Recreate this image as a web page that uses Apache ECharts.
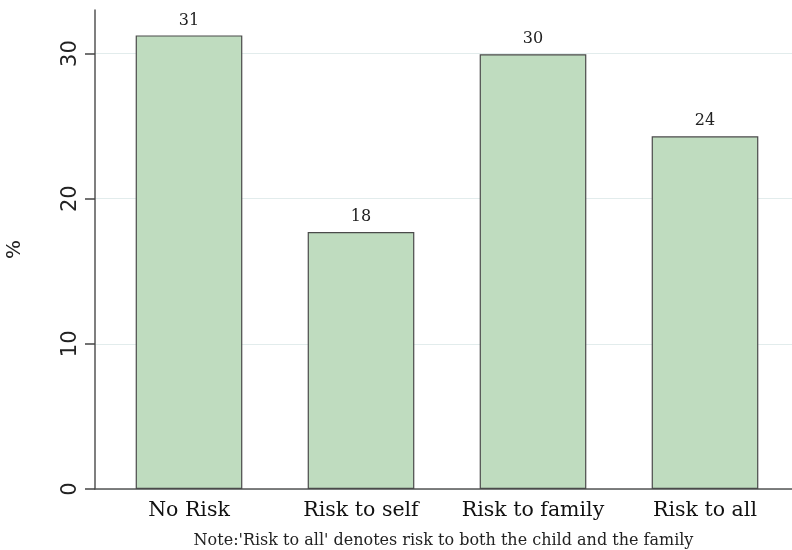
<!DOCTYPE html>
<html><head><meta charset="utf-8">
<script src="https://cdn.jsdelivr.net/npm/echarts@6/dist/echarts.min.js"></script>
<style>html,body{margin:0;padding:0;background:#fff}#c{width:792px;height:550px}</style>
</head><body><div id="c"></div>
<script>
const categories = ['No Risk', 'Risk to self', 'Risk to family', 'Risk to all'];
const values = [31.25, 17.7, 29.95, 24.3];
const labels = ['31', '18', '30', '24'];
const yTicks = [0, 10, 20, 30];
const noteText = "Note:'Risk to all' denotes risk to both the child and the family";

const serif = 'DejaVu Serif';
const sans = 'DejaVu Sans';
const chart = echarts.init(document.getElementById('c'), null, {renderer: 'canvas'});
chart.setOption({
  animation: false,
  backgroundColor: '#fff',
  grid: [
    {left: 95, right: 0, top: 10, bottom: 61, containLabel: false, outerBoundsMode: 'none'},
    {left: 103, right: 1, top: 10, bottom: 61, containLabel: false, outerBoundsMode: 'none'}
  ],
  xAxis: [
    {gridIndex: 0, type: 'value', min: 0, max: 1,
     axisLine: {show: true, lineStyle: {color: '#555', width: 1.5}},
     axisTick: {show: false}, axisLabel: {show: false}, splitLine: {show: false},
     name: noteText, nameLocation: 'middle', nameGap: 44,
     nameTextStyle: {fontFamily: serif, fontSize: 16, color: '#222'}},
    {gridIndex: 1, type: 'category', data: categories,
     axisLine: {show: false}, axisTick: {show: false},
     axisLabel: {interval: 0, hideOverlap: false, fontFamily: serif, fontSize: 20.5, color: '#111', margin: 11}}
  ],
  yAxis: [
    {gridIndex: 0, type: 'value', min: 0, max: 33, interval: 10,
     axisLine: {show: true, lineStyle: {color: '#555', width: 1.5}},
     axisTick: {show: true, length: 10, lineStyle: {color: '#444', width: 1.5},
       customValues: yTicks},
     axisLabel: {rotate: 90, fontFamily: sans, fontSize: 21, color: '#222', margin: 14,
       customValues: yTicks},
     splitLine: {show: true, lineStyle: {color: '#e2ecec', width: 1.2}},
     name: '%', nameLocation: 'middle', nameRotate: 90, nameGap: 70,
     nameTextStyle: {fontFamily: sans, fontSize: 20, color: '#222'}},
    {gridIndex: 1, type: 'value', min: 0, max: 33,
     axisLine: {show: false}, axisTick: {show: false}, axisLabel: {show: false}, splitLine: {show: false}}
  ],
  series: [{
    type: 'bar', xAxisIndex: 1, yAxisIndex: 1,
    data: values,
    barCategoryGap: '38%',
    itemStyle: {color: '#bfdcbf', borderColor: '#4a4a4a', borderWidth: 1.2},
    label: {show: true, position: 'top', distance: 7, fontFamily: serif, fontSize: 16, color: '#222',
      formatter: p => labels[p.dataIndex]}
  }]
});
</script></body></html>
